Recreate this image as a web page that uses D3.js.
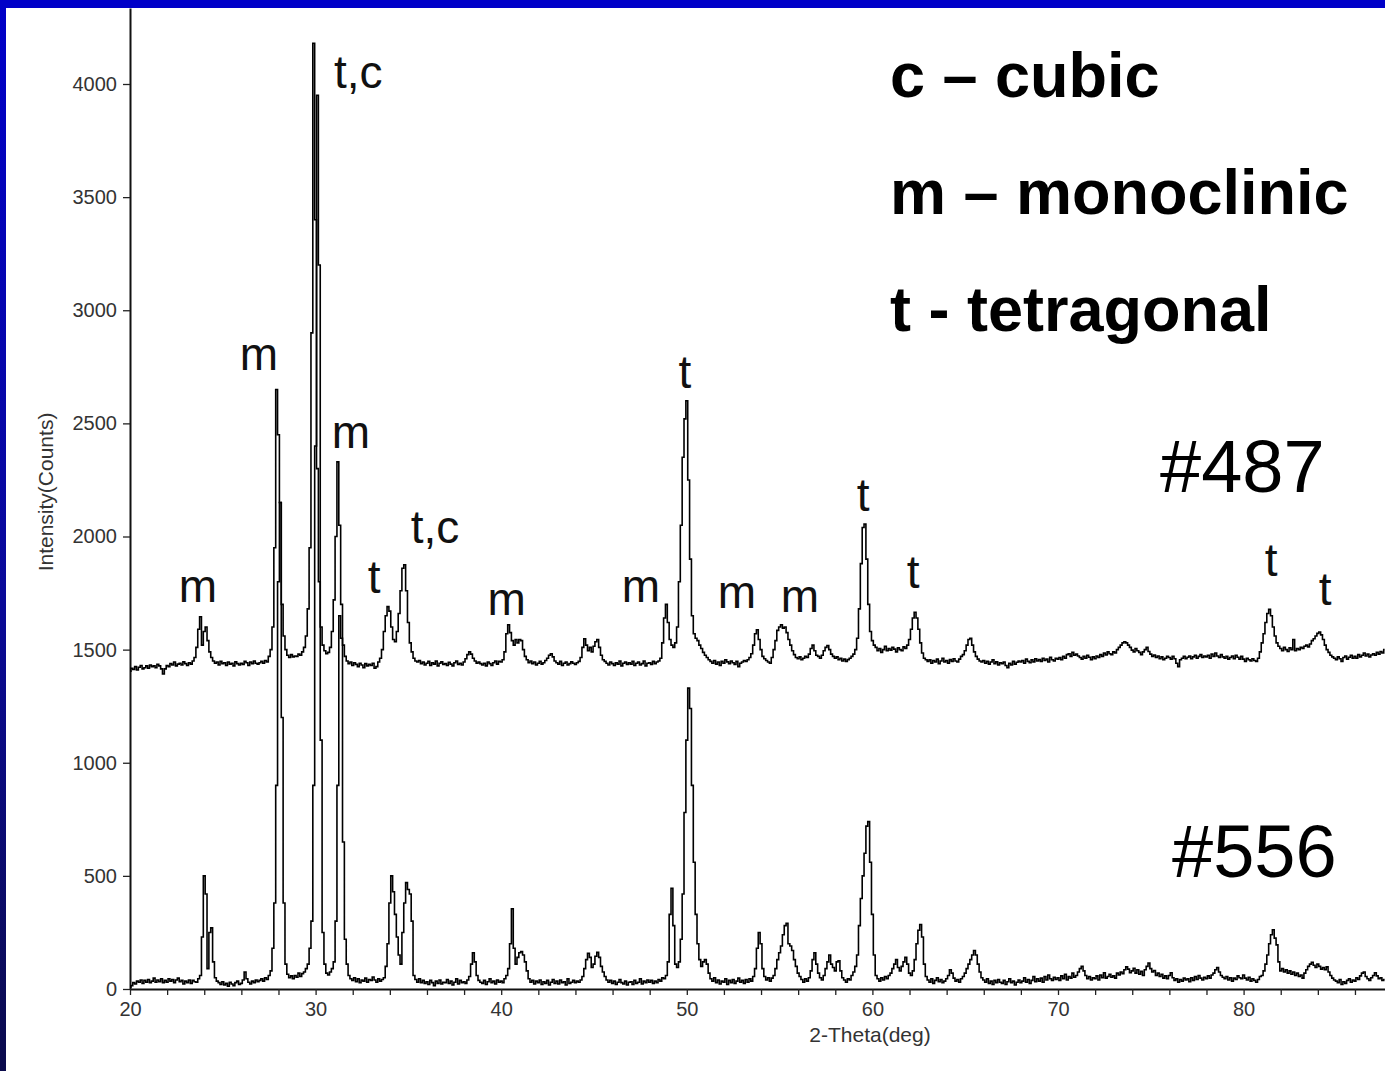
<!DOCTYPE html>
<html>
<head>
<meta charset="utf-8">
<script src="https://cdn.jsdelivr.net/npm/d3@7"></script>
<style>
  body { margin: 0; background: #fff; }
  svg { display: block; }
  .tick text { font-family: "Liberation Sans", Arial, sans-serif; fill: #333; }
</style>
</head>
<body>
<svg id="chart"></svg>
<script>
// XRD scans, intensity (counts) on a 0.1 deg 2-theta grid starting at 20.0
var thetaStart = 20.0;
var thetaStep = 0.1;

// sample #487 (drawn offset on top)
var counts487 = [
  1405,1418,1412,1425,1410,1422,1430,1415,1420,1428,
  1418,1432,1425,1428,1420,1435,1428,1415,1392,1415,
  1430,1425,1438,1432,1445,1428,1436,1440,1432,1446,
  1438,1430,1442,1436,1450,1465,1510,1590,1645,1520,
  1580,1600,1540,1490,1465,1450,1440,1445,1432,1448,
  1438,1442,1430,1445,1436,1440,1428,1446,1438,1432,
  1440,1435,1448,1442,1430,1445,1438,1450,1440,1436,
  1442,1448,1440,1452,1445,1470,1500,1600,1950,2650,
  2450,2150,1700,1560,1500,1475,1465,1478,1468,1472,
  1470,1480,1475,1490,1510,1560,1680,1950,2900,4180,
  3400,2300,1800,1600,1520,1495,1482,1488,1510,1580,
  1720,2000,2330,2050,1700,1520,1470,1450,1438,1445,
  1430,1442,1435,1425,1440,1432,1420,1438,1428,1435,
  1430,1440,1418,1425,1445,1462,1500,1580,1650,1690,
  1670,1600,1545,1535,1580,1660,1760,1860,1875,1760,
  1620,1530,1490,1462,1450,1445,1452,1438,1445,1432,
  1440,1448,1430,1442,1436,1450,1428,1440,1446,1435,
  1438,1430,1444,1436,1428,1442,1450,1435,1440,1432,
  1445,1460,1478,1490,1480,1462,1450,1440,1445,1438,
  1432,1440,1428,1445,1438,1430,1442,1450,1436,1448,
  1445,1455,1490,1570,1610,1575,1540,1520,1545,1530,
  1545,1540,1500,1470,1455,1442,1450,1438,1445,1432,
  1440,1448,1436,1442,1452,1462,1475,1482,1468,1450,
  1442,1436,1448,1430,1440,1445,1432,1438,1446,1440,
  1435,1442,1448,1465,1510,1548,1520,1495,1510,1490,
  1515,1535,1545,1510,1475,1455,1448,1440,1432,1445,
  1438,1430,1442,1436,1450,1428,1440,1445,1435,1442,
  1436,1448,1430,1440,1445,1432,1438,1450,1428,1440,
  1442,1435,1448,1438,1445,1450,1462,1530,1640,1700,
  1620,1545,1520,1510,1530,1600,1800,2050,2350,2520,
  2600,2250,1900,1650,1570,1550,1540,1520,1505,1488,
  1475,1465,1455,1448,1440,1452,1436,1445,1430,1448,
  1440,1455,1446,1438,1450,1442,1435,1448,1425,1440,
  1445,1452,1448,1455,1465,1482,1520,1570,1588,1545,
  1500,1470,1460,1452,1445,1440,1465,1500,1540,1585,
  1600,1610,1595,1600,1575,1545,1520,1495,1478,1465,
  1460,1468,1455,1462,1470,1465,1480,1505,1520,1495,
  1475,1470,1462,1475,1495,1510,1518,1500,1480,1470,
  1462,1468,1455,1462,1450,1458,1448,1456,1462,1470,
  1480,1500,1550,1680,1880,2040,2055,1900,1700,1580,
  1540,1520,1510,1495,1505,1488,1500,1515,1495,1505,
  1498,1510,1502,1490,1508,1500,1495,1512,1505,1520,
  1545,1590,1640,1665,1640,1590,1530,1485,1462,1455,
  1448,1455,1440,1452,1445,1458,1438,1450,1462,1445,
  1452,1440,1456,1448,1460,1450,1445,1458,1470,1478,
  1495,1520,1545,1550,1520,1490,1470,1458,1450,1445,
  1452,1440,1448,1436,1445,1455,1438,1446,1432,1442,
  1438,1445,1430,1420,1440,1432,1448,1436,1444,1450,
  1445,1452,1440,1458,1448,1442,1455,1446,1460,1450,
  1456,1448,1462,1452,1458,1445,1466,1455,1450,1462,
  1458,1465,1455,1470,1462,1478,1482,1470,1488,1475,
  1480,1472,1465,1458,1470,1462,1475,1466,1455,1468,
  1460,1472,1465,1478,1470,1485,1476,1490,1482,1478,
  1490,1485,1500,1510,1520,1530,1535,1530,1520,1510,
  1498,1490,1505,1495,1488,1478,1490,1500,1510,1492,
  1480,1470,1476,1465,1472,1460,1468,1455,1462,1470,
  1465,1458,1470,1460,1440,1425,1455,1462,1470,1460,
  1466,1472,1460,1468,1475,1462,1470,1478,1465,1472,
  1468,1475,1462,1480,1470,1485,1472,1465,1478,1468,
  1462,1470,1458,1465,1472,1460,1475,1466,1458,1470,
  1458,1448,1462,1455,1450,1460,1452,1448,1462,1490,
  1530,1570,1620,1660,1678,1650,1600,1560,1530,1515,
  1505,1495,1510,1500,1492,1508,1500,1545,1495,1505,
  1500,1510,1505,1515,1520,1512,1525,1540,1548,1560,
  1572,1578,1565,1545,1520,1500,1488,1475,1468,1462,
  1455,1468,1460,1448,1465,1472,1458,1466,1475,1462,
  1470,1462,1478,1468,1475,1485,1472,1480,1468,1476,
  1482,1475,1488,1480,1492,1485,1500
];

// sample #556
var counts556 = [
  8,15,28,22,35,30,40,25,38,30,
  42,28,35,48,30,40,32,45,28,38,
  30,45,35,42,28,40,48,32,38,22,
  35,28,40,25,38,32,30,45,60,230,
  500,420,90,250,270,120,50,35,28,20,
  32,18,25,12,30,22,15,28,35,20,
  25,40,75,45,30,22,35,28,40,32,
  38,45,35,50,42,60,80,180,380,900,
  1800,2150,1200,380,110,65,50,58,45,60,
  52,70,55,68,75,90,110,180,300,900,
  2400,3950,3200,1100,250,110,70,62,75,90,
  120,300,900,1650,1550,650,220,110,60,45,
  38,50,32,45,28,40,35,48,30,42,
  38,53,40,30,45,35,42,50,100,200,
  380,500,430,330,230,150,110,250,380,470,
  440,420,300,60,42,30,45,28,38,25,
  32,20,38,28,15,35,25,40,22,30,
  28,42,25,35,18,30,45,22,38,28,
  32,25,40,55,110,160,120,60,38,30,
  25,38,20,32,45,28,35,22,40,30,
  35,28,45,60,90,200,355,180,110,140,
  160,165,150,120,80,45,30,38,22,35,
  28,40,20,32,25,38,18,30,42,25,
  35,22,40,28,32,18,45,25,30,38,
  28,35,30,40,55,90,130,158,140,95,
  110,145,162,140,100,75,55,40,30,38,
  25,35,20,30,42,28,22,35,18,30,
  32,20,38,25,30,45,22,35,28,40,
  30,38,25,35,28,42,35,50,45,60,
  120,330,445,280,110,95,120,220,420,780,
  1100,1330,1240,900,560,330,200,130,100,120,
  130,110,70,45,35,50,28,40,22,35,
  30,45,20,38,28,42,25,35,48,30,
  38,25,42,30,45,35,55,90,180,250,
  200,90,55,40,50,35,48,60,90,130,
  160,190,240,280,290,200,190,170,130,100,
  70,55,42,30,45,35,50,80,130,160,
  110,70,50,40,60,90,120,150,110,95,
  80,120,125,80,50,40,30,45,40,60,
  75,100,150,280,400,500,600,720,740,560,
  330,150,60,45,35,50,40,55,45,60,
  70,90,110,130,95,80,100,120,140,110,
  70,60,80,130,200,260,285,230,110,55,
  40,30,45,25,38,50,32,42,28,35,
  45,60,85,70,48,35,42,30,45,55,
  70,90,110,130,150,170,150,110,75,50,
  40,30,45,25,35,20,38,28,42,30,
  25,38,20,32,45,28,35,18,30,40,
  28,35,50,30,42,25,38,55,32,45,
  35,48,30,55,40,62,45,38,52,42,
  50,38,58,45,65,40,55,48,70,52,
  60,75,90,100,80,60,45,55,40,50,
  45,58,40,62,50,72,48,55,65,52,
  58,48,70,62,75,68,85,98,88,72,
  80,92,70,85,65,78,60,85,100,115,
  90,75,82,60,70,55,65,48,58,45,
  60,72,50,38,45,30,42,35,48,40,
  45,32,50,38,55,42,60,48,40,52,
  45,58,48,62,70,85,95,75,60,52,
  45,55,40,50,35,48,42,58,50,45,
  62,48,40,52,35,45,38,30,42,55,
  60,80,110,150,200,240,262,225,195,120,
  80,90,75,85,70,80,65,75,60,70,
  55,62,48,70,85,100,110,118,105,95,
  110,100,88,95,85,98,75,60,48,40,
  35,28,42,20,32,25,38,45,30,40,
  35,50,42,58,70,75,55,45,38,50,
  60,72,58,45,50,38,42
];

// axis ticks (the slide cuts the scan off just before 88 deg)
var yTicks = [0, 500, 1000, 1500, 2000, 2500, 3000, 3500, 4000];
var xTicks = d3.range(20, 87, 2);
var xLabelled = [20, 30, 40, 50, 60, 70, 80];

// phase labels over the peaks: text, 2-theta, counts of the label baseline
var peakText   = ["m", "m", "t,c", "m", "t", "t,c", "m", "m", "t", "m", "m", "t", "t", "t", "t"];
var peakTheta  = [23.66, 26.95, 32.3, 31.9, 33.15, 36.43, 40.3, 47.53, 49.9, 52.7, 56.1, 59.5, 62.2, 81.48, 84.4];
var peakCounts = [1710, 2736, 3982, 2391, 1750, 1971, 1653, 1710, 2656, 1684, 1666, 2113, 1772, 1825, 1697];

// legend + sample names
var legendLines = ["c \u2013 cubic", "m \u2013 monoclinic", "t - tetragonal"];
var sampleNames = ["#487", "#556"];

var width = 1385, height = 1071;
var font = '"Liberation Sans", Arial, Helvetica, sans-serif';

var svg = d3.select("#chart")
  .attr("width", width)
  .attr("height", height);

// slide frame: blue band on top and left edge
var grad = svg.append("defs").append("linearGradient")
  .attr("id", "edge")
  .attr("x1", 0).attr("y1", 0).attr("x2", 0).attr("y2", 1);
grad.append("stop").attr("offset", "0%").attr("stop-color", "#0000c8");
grad.append("stop").attr("offset", "55%").attr("stop-color", "#0a0a9a");
grad.append("stop").attr("offset", "100%").attr("stop-color", "#0b0b4c");

svg.append("rect").attr("x", 0).attr("y", 0).attr("width", 6).attr("height", height)
  .attr("fill", "url(#edge)");
svg.append("rect").attr("x", 0).attr("y", 0).attr("width", width).attr("height", 8)
  .attr("fill", "#0000c8");

// scales
var x = d3.scaleLinear().domain([20, 90]).range([130, 1429.2]);
var y = d3.scaleLinear().domain([0, 4000]).range([989, 84]);
var yTop = y.invert(8);

// axes
var yAxis = d3.axisLeft(d3.scaleLinear().domain([0, yTop]).range([989, 8]))
  .tickValues(yTicks)
  .tickSize(7)
  .tickSizeOuter(0)
  .tickPadding(6)
  .tickFormat(d3.format("d"));

var gy = svg.append("g")
  .attr("transform", "translate(130,0)")
  .call(yAxis);
gy.select(".domain").attr("stroke", "#111").attr("stroke-width", 2);
gy.selectAll(".tick line").attr("stroke", "#222").attr("stroke-width", 1.3);
gy.selectAll(".tick text").style("font-size", "20px");

var xAxis = d3.axisBottom(x)
  .tickValues(xTicks)
  .tickSize(6)
  .tickSizeOuter(0)
  .tickPadding(7)
  .tickFormat(function(d) { return xLabelled.indexOf(d) >= 0 ? d : ""; });

var gx = svg.append("g")
  .attr("transform", "translate(0,989)")
  .call(xAxis);
gx.select(".domain").attr("stroke", "#111").attr("stroke-width", 2);
gx.selectAll(".tick line").attr("stroke", "#222").attr("stroke-width", 1.3);
gx.selectAll(".tick text").style("font-size", "20px");

// axis titles
svg.append("text")
  .attr("transform", "translate(53,492) rotate(-90)")
  .attr("text-anchor", "middle")
  .style("font-family", font)
  .style("font-size", "21px")
  .style("fill", "#333")
  .text("Intensity(Counts)");

svg.append("text")
  .attr("x", 870)
  .attr("y", 1042)
  .attr("text-anchor", "middle")
  .style("font-family", font)
  .style("font-size", "21px")
  .style("fill", "#333")
  .text("2-Theta(deg)");

// traces
function toPoints(arr) {
  return arr.map(function(c, i) { return [thetaStart + i * thetaStep, c]; });
}

var line = d3.line()
  .x(function(d) { return x(d[0]); })
  .y(function(d) { return y(d[1]); })
  .curve(d3.curveStep);

svg.append("path")
  .datum(toPoints(counts556))
  .attr("fill", "none")
  .attr("stroke", "#000")
  .attr("stroke-width", 1.6)
  .attr("d", line);

svg.append("path")
  .datum(toPoints(counts487))
  .attr("fill", "none")
  .attr("stroke", "#000")
  .attr("stroke-width", 1.6)
  .attr("d", line);

// phase letters
svg.selectAll("text.peak")
  .data(peakText)
  .enter()
  .append("text")
    .classed("peak", true)
    .attr("x", function(d, i) { return x(peakTheta[i]); })
    .attr("y", function(d, i) { return y(peakCounts[i]); })
    .attr("text-anchor", "middle")
    .style("font-family", font)
    .style("font-size", "46px")
    .style("fill", "#111")
    .text(function(d) { return d; });

// legend
svg.selectAll("text.legend")
  .data(legendLines)
  .enter()
  .append("text")
    .classed("legend", true)
    .attr("x", 890)
    .attr("y", function(d, i) { return 97 + i * 117; })
    .style("font-family", font)
    .style("font-size", "63px")
    .style("font-weight", "bold")
    .style("fill", "#000")
    .text(function(d) { return d; });

// sample names
svg.selectAll("text.sample")
  .data(sampleNames)
  .enter()
  .append("text")
    .classed("sample", true)
    .attr("x", function(d, i) { return i ? 1172 : 1160; })
    .attr("y", function(d, i) { return i ? 877 : 492; })
    .style("font-family", font)
    .style("font-size", "74px")
    .style("fill", "#000")
    .text(function(d) { return d; });
</script>
</body>
</html>
